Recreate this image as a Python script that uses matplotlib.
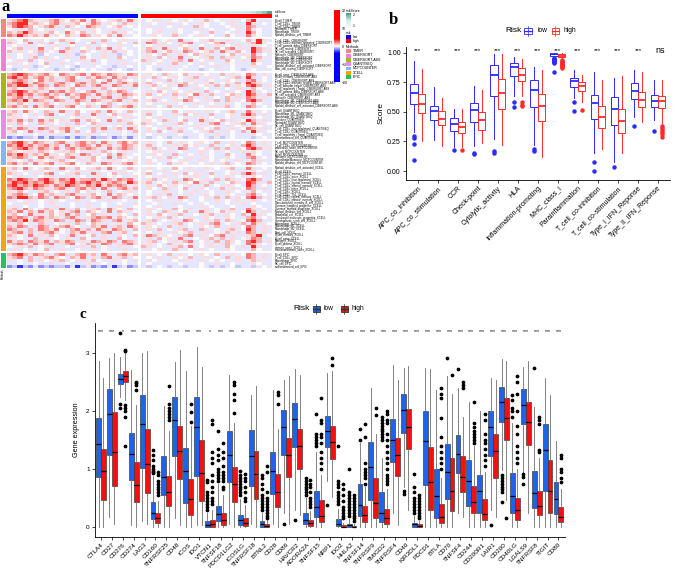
import numpy as np
import matplotlib.pyplot as plt
import matplotlib.transforms as mtransforms
from matplotlib.colors import LinearSegmentedColormap, ListedColormap, Normalize
from matplotlib.patches import Rectangle
from matplotlib.lines import Line2D

plt.rcParams['font.family'] = ['Liberation Sans', 'DejaVu Sans']

# ---------------- panel a data ----------------
methods = ['TIMER', 'CIBERSORT', 'CIBERSORT-ABS', 'QUANTISEQ', 'MCPCOUNTER', 'XCELL', 'EPIC']
method_colors = ['#F4877F', '#F57FD5', '#A5B51A', '#E98AEC', '#86B4F5', '#EFA711', '#22C466']

timer_cells = ['B_cell_TIMER', 'T_cell_CD4+_TIMER', 'T_cell_CD8+_TIMER', 'Neutrophil_TIMER',
               'Macrophage_TIMER', 'Myeloid_dendritic_cell_TIMER']
cibersort_cells = ['T_cell_CD8+_CIBERSORT', 'T_cell_CD4+_memory_activated_CIBERSORT',
                   'T_cell_gamma_delta_CIBERSORT', 'NK_cell_resting_CIBERSORT', 'NK_cell_activated_CIBERSORT',
                   'Monocyte_CIBERSORT', 'Macrophage_M0_CIBERSORT', 'Macrophage_M1_CIBERSORT',
                   'Macrophage_M2_CIBERSORT', 'Myeloid_dendritic_cell_activated_CIBERSORT',
                   'Mast_cell_resting_CIBERSORT']
cibersort_abs_cells = ['B_cell_naive_CIBERSORT-ABS', 'B_cell_memory_CIBERSORT-ABS', 'T_cell_CD8+_CIBERSORT-ABS',
                       'T_cell_CD4+_memory_resting_CIBERSORT-ABS', 'T_cell_follicular_helper_CIBERSORT-ABS',
                       'T_cell_regulatory_(Tregs)_CIBERSORT-ABS', 'T_cell_gamma_delta_CIBERSORT-ABS',
                       'NK_cell_activated_CIBERSORT-ABS', 'Monocyte_CIBERSORT-ABS', 'Macrophage_M1_CIBERSORT-ABS',
                       'Macrophage_M2_CIBERSORT-ABS', 'Myeloid_dendritic_cell_activated_CIBERSORT-ABS']
quantiseq_cells = ['B_cell_QUANTISEQ', 'Macrophage_M1_QUANTISEQ', 'Macrophage_M2_QUANTISEQ', 'Monocyte_QUANTISEQ',
                   'Neutrophil_QUANTISEQ', 'NK_cell_QUANTISEQ', 'T_cell_CD4+_(non-regulatory)_QUANTISEQ',
                   'T_cell_CD8+_QUANTISEQ', 'T_cell_regulatory_(Tregs)_QUANTISEQ', 'uncharacterized_cell_QUANTISEQ']
mcpcounter_cells = ['T_cell_MCPCOUNTER', 'T_cell_CD8+_MCPCOUNTER', 'cytotoxicity_score_MCPCOUNTER',
                    'NK_cell_MCPCOUNTER', 'B_cell_MCPCOUNTER', 'Monocyte_MCPCOUNTER',
                    'Macrophage/Monocyte_MCPCOUNTER', 'Myeloid_dendritic_cell_MCPCOUNTER']
xcell_cells = ['Myeloid_dendritic_cell_activated_XCELL', 'B_cell_XCELL', 'T_cell_CD4+_memory_XCELL',
               'T_cell_CD4+_naive_XCELL', 'T_cell_CD4+_(non-regulatory)_XCELL', 'T_cell_CD4+_central_memory_XCELL',
               'T_cell_CD4+_effector_memory_XCELL', 'T_cell_CD8+_naive_XCELL', 'T_cell_CD8+_XCELL',
               'T_cell_CD4+_Th1_XCELL', 'T_cell_CD8+_central_memory_XCELL', 'T_cell_CD8+_effector_memory_XCELL',
               'Class-switched_memory_B_cell_XCELL', 'Common_lymphoid_progenitor_XCELL',
               'Common_myeloid_progenitor_XCELL', 'Myeloid_dendritic_cell_XCELL', 'Endothelial_cell_XCELL',
               'Granulocyte-monocyte_progenitor_XCELL', 'Hematopoietic_stem_cell_XCELL', 'Macrophage_XCELL',
               'Macrophage_M1_XCELL', 'Macrophage_M2_XCELL', 'Mast_cell_XCELL', 'B_cell_memory_XCELL',
               'B_cell_naive_XCELL', 'Monocyte_XCELL', 'B_cell_plasma_XCELL', 'immune_score_XCELL',
               'microenvironment_score_XCELL']
epic_cells = ['B_cell_EPIC', 'T_cell_CD4+_EPIC', 'Macrophage_EPIC', 'NK_cell_EPIC', 'uncharacterized_cell_EPIC']

# heat levels, low-risk samples | high-risk samples (binned columns)
LEVELS = {'B': -3.2, 'b': -1.8, 'c': -0.9, '.': -0.35, 'w': 0.05, 'p': 0.5, 'q': 1.1, 'r': 2.1, 'R': 3.4}

timer_rows = [
    "pqrRq p.pqr pwqpr .rpw. pq.rp | .w.p. .w.pw ..q.w ..p.w qR...",
    "qrRRp qpwqr p.pqw prq.p w.qp. | ..w.. p..w. .pw.. w.p.. Rp.w.",
    "prRrq wpqrp .qpw. rqp.w pq.w. | .p... w.p.. q.w.. .w.p. rq...",
    "w.p.q .w.p. .w.p. .pw.. .p..w | .w.p. ..w.. .p.w. ..w.. r.w..",
    "qpqRq p.pqw .rpwq .pw.p q.pw. | .w.p. .pw.. w..q. .w.p. Rqw..",
    "rqRqp qpr.p wqp.r q.pwq .rp.w | ..pw. .q..w .p.w. .qw.. rpw..",
]
cibersort_rows = [
    "p.wq. .pw.. qp.w. .p.q. w.p.. | .pq.w p.r.. w.pq. .p..w q.Rp.",
    "qpw.r .p.qw .pr.. wq.p. .pw.q | prq.p w.pqr .p.wq r.p.. pqR.w",
    ".w.p. .w..p ..w.. p..w. .p..w | .w.p. ..pw. .w..p .w.p. .p.w.",
    "wpq.p .r.pw .qp.w p.q.r .pw.. | .qp.r p.wqp .rp.q wqr.p .Rqp.",
    "q.p.w pq.w. rp..q .w.p. q.pw. | pqr.w qp.rq .wpq. rp.qw .Rq.p",
    "..w.p .cw.. .p.c. w..p. .c.w. | .pw.q ..p.w q.p.. .wq.p .r.w.",
    "p.w.. q.p.w .p..q w..p. .qw.. | .p.qw p.r.. w.pq. q.p.w prq..",
    "w.p.q .w.p. .w..p .q.w. .p..w | qp.w. .pq.r .w.p. .qw.p .Rp..",
    ".p.w. .wq.. p..w. .p.w. ..p.. | ..wp. .q..w .p.w. .pw.. .qw..",
    "w..p. c.w.. .w.c. ..w.. c..w. | .w... p..w. .w..p ..w.. .p..w",
    ".c.w. .w..c ..c.w .w..c .w.c. | .w.c. ..w.. .c.w. ..w.c .w...",
]
cibersort_abs_rows = [
    "qrRrq pqrpw rqpqr .rqpr qp.rq | .pw.q p.wq. .pw.. q.p.w rq.p.",
    "rRqrp qrpq. pqrw. qprq. rpq.p | p.q.w .pw.p q..p. w.pq. Rp.w.",
    "pqrq. wrpqp .qrp. pqw.r .qpw. | .w.p. q.w.p ..pw. .pw.. qr.w.",
    "qrRqp rqp.q rp.qr pq.rp .qrpq | pq.w. .p.qw p..q. wp.q. Rqp..",
    "rqRRq prq.r qpwrq .qrp. rq.pr | .pq.w p.rq. .wp.q .q.pw rRq.p",
    "pqw.p .qpw. p.qw. .p.q. w.p.. | ..w.p .w... p.w.. .w.p. .qw..",
    "qrRrp qp.rq rpq.w qrp.q prq.w | .p.qw .pw.p ..q.w .p.w. Rq.w.",
    "rqRqr pqrpq .rpqr q.rpq .prqp | pq.wp .q.pw rp.q. .wqp. Rrp.q",
    "pqr.q .pqrp w.qpr .p.qr .pq.w | .w.p. .pw.q ..p.w .q.p. rq.p.",
    "qrqRp rqp.r q.prq .rqp. qr.pq | .pq.w .p.rq w.p.q .qp.w rRq..",
    "p.qw. .pq.w .p.qw p.w.q .w.p. | .w..p ..w.. p..w. .p.w. .qw..",
    "qrpq. rpqr. pqrw. qp.rq .pqrp | .p.w. q.pw. .w.p. pq.w. rq.w.",
]
quantiseq_rows = [
    "pq.rp w.qp. rp.qw .pq.r pw.q. | .p.w. .qw.p ..p.w .pq.. rp.w.",
    "qp.w. p.qr. w.pq. .rp.w q.p.w | pq.w. .p.qw p..q. .wp.q Rq.p.",
    ".p.w. .w.p. ..w.p .w..p .w.p. | .w.p. ..w.. .p.w. .w..p .pw..",
    "qpr.q .rpqw p.qr. qpw.r .qp.w | .pw.q p.wq. .rp.w q.p.w Rq.p.",
    "p.qw. .qp.w .p.q. wqp.. .p.qw | qp.w. .pq.w .p.qr .w.pq .rp.w",
    "w.p.. .w.p. .p..w ..p.w .w..p | .w..p ..w.. p..w. .p.w. .pw..",
    "qprq. prq.p qrpw. .qpr. pq.rp | .pw.. q.p.w .pw.q ..p.w rq.p.",
    "pqw.r .p.qw pr.q. wq.p. .pw.q | .p.qw .pq.. w.pq. .pw.q .Rp.w",
    "..w.. w..p. .w... p..w. ..w.. | .w... ..w.. .w..p ..w.. .pw..",
    "bcbcc .b.bc cb.bc .bcc. bc.b. | .c.w. c..c. .w.c. c.w.. .c.w.",
]
mcpcounter_rows = [
    "qrRqp rqp.q rp.qr pq.rp .qrpq | .p.w. q.p.w .pw.q ..p.w rq.p.",
    "rqRqr pqrpq .rpqr q.rpq .prqp | pq.w. .p.qw p..q. .wp.q Rq.p.",
    "pqrRq prqpr .qrpq rqp.r pqrq. | .pq.w p.rq. .wp.q .q.pw rRq.p",
    "qpw.p .qpw. p.qw. .p.q. w.p.. | .w.p. ..w.. .p.w. .w..p .pw..",
    "rqRqp qpr.p wqp.r q.pwq .rp.w | ..pw. .q..w .p.w. .qw.. rpw..",
    "pqrq. wrpqp .qrp. pqw.r .qpw. | .w.p. q.w.p ..pw. .pw.. qr.w.",
    "p.w.q .pw.p q.w.p .qw.. p.w.p | .pw.. .w.p. .p.w. w..p. .qp..",
    "qrpq. rpqr. pqrw. qp.rq .pqrp | .p.w. q.pw. .w.p. pq.w. rq.w.",
]
xcell_rows = [
    "pq.rp w.qp. rp.qw .pq.r pw.q. | .p.w. .qw.p ..p.w .pq.. rp.w.",
    "p.w.. .pw.. .w.p. p..w. .p.w. | .w..p .w... .p.w. .w... .pw..",
    "qp.w. p.qr. w.pq. .rp.w q.p.w | pq.w. .p.qw p..q. .wp.q Rq.p.",
    "w.p.. .w.p. .p..w ..p.w .w..p | .w..p ..w.. p..w. .p.w. .pw..",
    "rqRrq prRqp rqRpq qrpRq prqr. | .pq.w .p.rq w.p.q .qp.w rRq..",
    "qRrRq rqRrp qrRqr Rqrpq rqpRq | pq.wp .q.pw rp.q. .wqp. Rrp.q",
    "rRqrq Rrqpr qRrqp rqRpr qrq.p | .p.qw .pw.p ..q.w .p.w. Rq.w.",
    "qrRqp rqp.q rp.qr pq.rp .qrpq | .pw.q p.wq. .pw.. q.p.w rq.p.",
    "p.qw. .pq.w .p.qw p.w.q .w.p. | .w..p ..w.. p..w. .p.w. .qw..",
    "pqrq. wrpqp .qrp. pqw.r .qpw. | .w.p. q.w.p ..pw. .pw.. qr.w.",
    "rqRRq prq.r qpwrq .qrp. rq.pr | .pq.w p.rq. .wp.q .q.pw rRq.p",
    "..w.p .w.p. w..p. .w..p ..w.. | .w.p. ..pw. .w..p .w.p. .p.w.",
    "w..p. .w.p. ..w.. p..w. .w..p | ..w.. .p..w ..w.. .w..p .w...",
    ".p.w. .w..p ..w.. p..w. .p..w | .w.p. ..w.. .p.w. ..w.. .pw..",
    "pq.rp w.qp. rp.qw .pq.r pw.q. | .p.w. .qw.p ..p.w .pq.. rp.w.",
    "qpr.q .rpqw p.qr. qpw.r .qp.w | .pw.q p.wq. .rp.w q.p.w Rq.p.",
    "pqw.r .p.qw pr.q. wq.p. .pw.q | .p.qw .pq.. w.pq. .pw.q .Rp.w",
    "rqrq. qrpqp .qrp. pqrqr .qpw. | .w.p. q.w.p ..pw. .pw.. qr.w.",
    "qrqRp rqp.r q.prq .rqp. qr.pq | .pq.w .p.rq w.p.q .qp.w rRq..",
    "p.qw. .qp.w .p.q. wqp.. .p.qw | qp.w. .pq.w .p.qr .w.pq .rp.w",
    "qprq. prq.p qrpw. .qpr. pq.rp | .pw.. q.p.w .pw.q ..p.w rq.p.",
    "rqp.q .rqpr w.qrp q.rp. rqp.q | .p.q. w.pq. .qp.w .pq.w Rq.p.",
    "pqr.q .pqrp w.qpr .p.qr .pq.w | .w.p. .pw.q ..p.w .q.p. rq.p.",
    "qpw.r .p.qw .pr.. wq.p. .pw.q | prq.p w.pqr .p.wq r.p.. pqR.w",
    "p.w.. q.p.w .p..q w..p. .qw.. | .p.qw p.r.. w.pq. q.p.w prq..",
    "rpq.r qpr.q prq.p .rqpr q.rqp | .pq.w .p.qr .wp.q .qpw. rRq.p",
    "pqrq. rpqr. pqrw. qp.rq .pqrp | .p.w. q.pw. .w.p. pq.w. rq.w.",
    "w.p.q .w.p. .w..p .q.w. .p..w | qp.w. .pq.r .w.p. .qw.p .Rp..",
    ".p.w. .wq.. p..w. .p.w. ..p.. | ..wp. .q..w .p.w. .pw.. .qw..",
]
epic_rows = [
    "qrRqp rqp.q rp.qr pq.rp .qrpq | .p.w. q.p.w .pw.q ..p.w rq.p.",
    "pqr.q .pqrp w.qpr .p.qr .pq.w | .w.p. .pw.q ..p.w .q.p. rq.p.",
    "p.w.q .pw.p q.w.p .qw.. p.w.p | .pw.. .w.p. .p.w. w..p. .qp..",
    "..w.. w..p. .w... p..w. ..w.. | .w... ..w.. .w..p ..w.. .pw..",
    "bcBcb .bcbc cb.Bc .bcb. Bc.bc | .c.w. c..c. .w.c. c.wc. .c.w.",
]

risk_low = [0.55, 0.62, 0.66, 0.69, 0.71, 0.73, 0.75, 0.77, 0.78, 0.80, 0.81, 0.83, 0.84,
            0.85, 0.87, 0.88, 0.89, 0.90, 0.91, 0.92, 0.93, 0.94, 0.95, 0.96, 0.97]
risk_high = [0.98, 0.99, 1.00, 1.01, 1.02, 1.04, 1.05, 1.06, 1.08, 1.09, 1.11, 1.13, 1.15,
             1.17, 1.19, 1.22, 1.25, 1.28, 1.32, 1.37, 1.43, 1.52, 1.65, 1.85, 2.20]

# ---------------- panel b data ----------------
b_cats = ['APC_co_inhibition', 'APC_co_stimulation', 'CCR', 'Check-point', 'Cytolytic_activity', 'HLA',
          'Inflammation-promoting', 'MHC_class_I', 'Parainflammation', 'T_cell_co-inhibition',
          'T_cell_co-stimulation', 'Type_I_IFN_Reponse', 'Type_II_IFN_Reponse']
b_sig = ['***'] * 12 + ['ns']
b_low_q1 = [0.565, 0.435, 0.34, 0.41, 0.63, 0.80, 0.54, 0.975, 0.71, 0.44, 0.39, 0.605, 0.54]
b_low_med = [0.66, 0.505, 0.40, 0.515, 0.815, 0.875, 0.685, 0.985, 0.76, 0.575, 0.525, 0.68, 0.59]
b_low_q3 = [0.735, 0.55, 0.45, 0.575, 0.90, 0.91, 0.765, 0.993, 0.79, 0.64, 0.625, 0.74, 0.64]
b_low_lo = [0.33, 0.26, 0.205, 0.21, 0.27, 0.63, 0.22, 0.96, 0.615, 0.15, 0.08, 0.46, 0.43]
b_low_hi = [0.93, 0.71, 0.525, 0.72, 0.99, 0.965, 0.875, 1.0, 0.85, 0.835, 0.79, 0.85, 0.765]
b_low_out = [[0.30, 0.28, 0.23, 0.09], [], [0.175], [0.15, 0.14], [0.17, 0.15], [0.58, 0.545],
             [0.19, 0.17], [0.955, 0.95, 0.945, 0.94, 0.935, 0.93, 0.925, 0.92, 0.91, 0.84],
             [0.585, 0.51], [0.08, 0.0], [0.035], [0.38], [0.34]]
b_high_q1 = [0.49, 0.385, 0.32, 0.35, 0.525, 0.76, 0.42, 0.962, 0.68, 0.36, 0.325, 0.545, 0.535]
b_high_med = [0.57, 0.44, 0.37, 0.43, 0.66, 0.815, 0.55, 0.975, 0.72, 0.46, 0.425, 0.60, 0.595]
b_high_q3 = [0.65, 0.505, 0.41, 0.495, 0.78, 0.87, 0.655, 0.985, 0.75, 0.55, 0.525, 0.665, 0.635]
b_high_lo = [0.25, 0.21, 0.20, 0.235, 0.22, 0.63, 0.12, 0.945, 0.585, 0.19, 0.155, 0.415, 0.40]
b_high_hi = [0.86, 0.62, 0.52, 0.685, 0.985, 0.95, 0.855, 0.995, 0.815, 0.77, 0.80, 0.84, 0.77]
b_high_out = [[], [], [0.175], [], [], [0.58, 0.56, 0.55], [],
              [0.935, 0.93, 0.92, 0.915, 0.91, 0.90, 0.895, 0.885, 0.875, 0.87],
              [0.515], [], [], [], [0.38, 0.36, 0.35, 0.33, 0.31, 0.29]]

# ---------------- panel c data ----------------
c_genes = ['CTLA4', 'CD27', 'CD276', 'CD274', 'LAG3', 'CD160', 'TNFRSF25', 'CD48', 'ICOS', 'IDO1', 'VTCN1',
           'TNFSF18', 'PDCD1LG2', 'ICOSLG', 'TNFRSF18', 'BTNL2', 'CD28', 'CD86', 'HAVCR2', 'ADORA2A',
           'TNFSF15', 'NRP1', 'IDO2', 'HHLA2', 'TNFSF14', 'TNFRSF9', 'TMIGD2', 'TNFRSF4', 'CD40', 'KIR3DL1',
           'PDCD1', 'BTLA', 'CD70', 'TNFSF4', 'CD244', 'CD200R1', 'LAIR1', 'CD200', 'CD40LG', 'LGALS9',
           'TNFRSF8', 'TIGIT', 'CD80']
c_sig = ['***', '***', '*', '***', '***', '***', '***', '***', '***', '***', '*', '***', '***', '**', '***',
         '**'] + ['***'] * 27
c_low_q1 = [0.87, 1.24, 2.46, 0.82, 1.02, 0.14, 0.56, 1.23, 0.41, 0.88, 0.0, 0.10, 0.78, 0.03, 0.71, 0.0,
            0.58, 1.24, 1.39, 0.06, 0.17, 1.39, 0.02, 0.0, 0.19, 0.47, 0.09, 1.12, 1.62, 0.0, 0.73, 0.16,
            0.48, 0.93, 0.36, 0.25, 1.23, 1.81, 0.24, 1.78, 0.33, 0.63, 0.22]
c_low_med = [1.43, 1.95, 2.55, 1.26, 1.77, 0.25, 0.87, 1.85, 0.97, 1.72, 0.03, 0.22, 1.24, 0.12, 1.23, 0.05,
             0.97, 1.73, 1.87, 0.12, 0.35, 1.66, 0.05, 0.03, 0.39, 1.03, 0.24, 1.51, 2.02, 0.05, 1.49, 0.54,
             0.95, 1.26, 0.79, 0.63, 1.72, 2.15, 0.54, 2.11, 0.59, 1.33, 0.48]
c_low_q3 = [1.88, 2.38, 2.64, 1.62, 2.27, 0.44, 1.23, 2.25, 1.37, 2.25, 0.10, 0.36, 1.65, 0.21, 1.68, 0.10,
            1.29, 2.02, 2.14, 0.24, 0.63, 1.91, 0.14, 0.06, 0.75, 1.47, 0.60, 1.87, 2.30, 0.08, 2.00, 1.00,
            1.43, 1.59, 1.16, 0.90, 2.00, 2.41, 0.93, 2.38, 0.97, 1.78, 0.77]
c_low_lo = [0.0, 0.18, 2.25, 0.03, 0.10, 0.0, 0.0, 0.15, 0.0, 0.03, 0.0, 0.0, 0.06, 0.0, 0.06, 0.0,
            0.06, 0.24, 0.29, 0.0, 0.0, 0.80, 0.0, 0.0, 0.0, 0.0, 0.0, 0.24, 0.70, 0.0, 0.0, 0.0,
            0.0, 0.24, 0.0, 0.0, 0.29, 0.98, 0.0, 0.93, 0.0, 0.0, 0.0]
c_low_hi = [2.87, 2.91, 2.94, 2.71, 3.00, 0.88, 2.09, 2.85, 2.70, 3.11, 0.24, 0.75, 2.62, 0.48, 2.27, 0.25,
            2.37, 2.54, 2.72, 0.50, 1.30, 2.66, 0.32, 0.14, 1.45, 2.40, 1.20, 2.80, 2.74, 0.20, 2.74, 2.37,
            2.60, 2.40, 2.16, 2.00, 2.57, 2.90, 1.80, 2.76, 2.08, 2.57, 1.49]
c_low_out = [[], [], [3.35, 2.12, 2.05], [], [], [1.33, 1.25, 1.15, 1.05, 1.0, 0.97, 0.95, 0.93], [], [], [], [],
             [0.82, 0.78, 0.6, 0.55, 0.5, 0.45, 0.4, 0.35, 0.3], [1.65, 1.35, 1.25, 1.15, 1.0, 0.95, 0.9, 0.85, 0.8],
             [], [0.97, 0.9, 0.85, 0.8, 0.75, 0.7, 0.65, 0.6, 0.55], [],
             [0.9, 0.85, 0.75, 0.65, 0.55, 0.5, 0.45, 0.4, 0.35, 0.3], [], [0.06], [0.12],
             [0.85, 0.8, 0.75, 0.7, 0.65, 0.6, 0.55], [1.95, 1.6, 1.55, 1.5, 1.45, 1.4], [0.39],
             [1.4, 0.8, 0.75, 0.7, 0.6, 0.55, 0.5, 0.45, 0.4], [1.0, 0.6, 0.55, 0.5, 0.45, 0.4, 0.35, 0.3, 0.25, 0.2],
             [1.7, 1.5], [], [1.9, 1.85, 1.8, 1.75, 1.7, 1.65, 1.6, 1.55, 1.5], [], [0.62, 0.58],
             [0.92, 0.7, 0.6, 0.5, 0.45, 0.4, 0.35, 0.3, 0.25], [], [], [2.92], [2.72], [], [], [0.04],
             [0.9, 0.85, 0.8, 0.75, 0.7, 0.65, 0.6, 0.43], [2.28, 2.2, 2.05, 2.0, 1.9], [0.92, 0.87, 0.75],
             [2.75], [], []]
c_high_q1 = [0.47, 0.71, 2.51, 0.44, 0.59, 0.075, 0.37, 0.83, 0.21, 0.45, 0.0, 0.03, 0.43, 0.02, 0.49, 0.0,
             0.35, 0.87, 1.00, 0.02, 0.09, 1.17, 0.0, 0.0, 0.09, 0.15, 0.06, 0.88, 1.35, 0.0, 0.29, 0.075,
             0.28, 0.61, 0.24, 0.13, 0.85, 1.51, 0.12, 1.42, 0.21, 0.24, 0.09]
c_high_med = [0.96, 1.30, 2.60, 0.73, 1.09, 0.16, 0.61, 1.31, 0.48, 0.93, 0.05, 0.13, 0.75, 0.075, 0.92, 0.02,
              0.60, 1.24, 1.40, 0.08, 0.19, 1.46, 0.01, 0.01, 0.21, 0.41, 0.16, 1.24, 1.72, 0.02, 0.78, 0.17,
              0.63, 0.87, 0.44, 0.22, 1.31, 1.89, 0.29, 1.82, 0.37, 0.63, 0.18]
c_high_q3 = [1.34, 1.98, 2.70, 1.13, 1.69, 0.24, 0.89, 1.74, 0.83, 1.50, 0.13, 0.24, 1.03, 0.16, 1.31, 0.05,
             0.92, 1.53, 1.70, 0.13, 0.47, 1.74, 0.03, 0.02, 0.37, 0.84, 0.31, 1.53, 2.04, 0.05, 1.39, 0.40,
             1.19, 1.23, 0.71, 0.48, 1.61, 2.23, 0.50, 2.15, 0.62, 1.16, 0.35]
c_high_lo = [0.0, 0.06, 2.19, 0.0, 0.06, 0.0, 0.0, 0.03, 0.0, 0.03, 0.0, 0.0, 0.0, 0.0, 0.0, 0.0,
             0.0, 0.06, 0.21, 0.0, 0.0, 0.52, 0.0, 0.0, 0.0, 0.0, 0.0, 0.03, 0.29, 0.0, 0.0, 0.0,
             0.0, 0.17, 0.0, 0.0, 0.18, 0.47, 0.0, 0.24, 0.0, 0.0, 0.0]
c_high_hi = [2.57, 3.00, 3.00, 2.10, 3.03, 0.45, 1.65, 3.06, 1.75, 2.76, 0.30, 0.55, 1.80, 0.38, 2.43, 0.12,
             1.70, 2.60, 2.62, 0.28, 0.90, 2.70, 0.08, 0.05, 0.70, 1.60, 0.65, 2.54, 2.78, 0.10, 2.72, 0.85,
             2.30, 1.90, 1.40, 0.95, 2.54, 2.86, 1.00, 2.86, 1.20, 2.28, 0.65]
c_high_out = [[], [], [3.05, 3.03, 2.1, 2.05, 2.0, 1.9, 1.4], [2.5, 2.48, 2.45, 2.37], [],
              [0.95, 0.9, 0.8, 0.75, 0.7, 0.65, 0.6, 0.55], [2.43, 2.12, 2.05, 2.0, 1.95, 1.9, 1.85], [],
              [2.12, 1.99, 1.82], [], [1.85, 1.78, 1.3, 1.2, 1.1, 0.9, 0.8, 0.7, 0.6, 0.5, 0.45, 0.4],
              [1.45, 1.3, 1.2, 1.05, 0.95, 0.9, 0.85, 0.8, 0.7, 0.65], [2.5, 2.45, 2.3, 2.2, 1.97],
              [0.92, 0.85, 0.8, 0.7, 0.6, 0.5, 0.45], [],
              [1.05, 0.95, 0.6, 0.5, 0.45, 0.4, 0.35, 0.3, 0.25, 0.2, 0.15], [2.33, 2.28, 2.13], [], [],
              [0.82, 0.75, 0.7, 0.6, 0.5, 0.45, 0.4, 0.35], [2.23, 1.85, 1.8, 1.6, 1.55, 1.45, 1.3, 1.2, 1.1, 1.0],
              [2.92, 2.8], [0.75, 0.65, 0.55, 0.45, 0.35, 0.3, 0.25, 0.2, 0.15],
              [0.55, 0.5, 0.45, 0.4, 0.35, 0.3, 0.25, 0.2, 0.15, 0.1], [1.78, 1.55, 1.1, 1.0, 0.95, 0.9, 0.85, 0.75],
              [2.05, 1.93], [2.0, 1.95, 1.85, 1.8, 1.6, 1.5, 1.4, 1.3, 1.2, 1.1, 1.0, 0.9, 0.85, 0.8, 0.75], [], [],
              [0.55, 0.5, 0.45, 0.4, 0.35, 0.3, 0.25, 0.2, 0.15], [],
              [2.4, 2.3, 2.22, 1.88, 1.55, 1.4, 1.3, 1.2, 1.1, 1.0], [2.62], [2.5, 2.45, 2.4],
              [2.15, 1.8, 1.72, 1.65, 1.6, 1.55, 1.5, 1.45], [1.95, 1.85, 1.6, 1.5, 1.45, 1.35, 1.25, 1.15, 1.05],
              [], [0.16], [2.6, 2.5, 2.3, 2.0, 1.75, 1.6, 1.4, 1.3, 1.2, 1.1], [],
              [1.9, 1.85, 1.77, 1.33, 1.3], [], [1.25, 1.2, 1.0, 0.95, 0.85, 0.78]]

# ---------------- figure ----------------
W, H = 676, 573
fig = plt.figure(figsize=(W / 100, H / 100), dpi=100)


def fax(x0, y0, x1, y1):
    # axes from a pixel box, origin top-left
    return fig.add_axes([x0 / W, 1 - y1 / H, (x1 - x0) / W, (y1 - y0) / H])


def ftext(x, y, s, **kw):
    fig.text(x / W, 1 - y / H, s, **kw)


def frect(x, y, w, h, **kw):
    fig.add_artist(Rectangle((x / W, 1 - (y + h) / H), w / W, h / H, transform=fig.transFigure, **kw))


def fline(xs, ys, **kw):
    fig.add_artist(Line2D([x / W for x in xs], [1 - y / H for y in ys], transform=fig.transFigure, **kw))


def key(x, yc, w, h, fc, ec):
    # little boxplot glyph used in the ggplot legends
    fline([x + w / 2, x + w / 2], [yc - h / 2 - 1.8, yc + h / 2 + 1.8], color=ec, lw=0.5)
    frect(x, yc - h / 2, w, h, fc=fc, ec=ec, lw=0.6)
    fline([x, x + w], [yc, yc], color=ec, lw=0.9)


# ---- panel a ----
heat_cmap = LinearSegmentedColormap.from_list(
    'hm', [(0, '#0000ff'), (0.40, '#0000ff'), (0.5, '#ffffff'), (0.60, '#ff0000'), (1, '#ff0000')])
heat_norm = Normalize(-20, 20)

groups = [(timer_cells, timer_rows), (cibersort_cells, cibersort_rows), (cibersort_abs_cells, cibersort_abs_rows),
          (quantiseq_cells, quantiseq_rows), (mcpcounter_cells, mcpcounter_rows), (xcell_cells, xcell_rows),
          (epic_cells, epic_rows)]
nb = 25
col_gap, row_gap = 0.6, 0.7
x_edges = np.r_[np.arange(nb + 1), nb + col_gap + np.arange(nb + 1)]

Z, grp, names, name_y = [], [], [], []
y_edges = [0.0]
for gi, (cells, rows) in enumerate(groups):
    if gi > 0:
        Z.append([np.nan] * (2 * nb + 1))
        grp.append(np.nan)
        y_edges.append(y_edges[-1] + row_gap)
    for cell, s in zip(cells, rows):
        lo, hi = s.replace(' ', '').split('|')
        lo, hi = lo[:nb].ljust(nb, '.'), hi[:nb].ljust(nb, '.')
        Z.append([LEVELS[c] for c in lo] + [np.nan] + [LEVELS[c] for c in hi])
        grp.append(gi)
        names.append(cell)
        name_y.append(y_edges[-1] + 0.5)
        y_edges.append(y_edges[-1] + 1)
Z = np.ma.masked_invalid(np.array(Z, dtype=float))

ax_h = fax(7, 19, 272, 268)
ax_h.pcolormesh(x_edges, y_edges, Z, cmap=heat_cmap, norm=heat_norm)
ax_h.set_xlim(0, x_edges[-1])
ax_h.set_ylim(y_edges[-1], 0)
ax_h.axis('off')
tr = mtransforms.blended_transform_factory(ax_h.transAxes, ax_h.transData)
for n, y in zip(names, name_y):
    ax_h.text(1.01, y, n, transform=tr, fontsize=2, va='center', ha='left')

ax_g = fax(1, 19, 5.5, 268)
ax_g.pcolormesh([0, 1], y_edges, np.ma.masked_invalid(np.array(grp, dtype=float))[:, None],
                cmap=ListedColormap(method_colors), vmin=-0.5, vmax=6.5)
ax_g.set_ylim(y_edges[-1], 0)
ax_g.axis('off')

rs_cmap = LinearSegmentedColormap.from_list('rs', ['#f4fbfb', '#d4eeee', '#3f9e78'])
ax_rs = fax(7, 10.5, 272, 13.5)
ax_rs.pcolormesh(x_edges, [0, 1], np.ma.masked_invalid(np.array([risk_low + [np.nan] + risk_high])),
                 cmap=rs_cmap, vmin=0.5, vmax=2.3)
ax_rs.axis('off')
ax_rk = fax(7, 14.2, 272, 17.6)
ax_rk.pcolormesh(x_edges, [0, 1], np.ma.masked_invalid(np.array([[0.0] * nb + [np.nan] + [1.0] * nb])),
                 cmap=ListedColormap(['#0000ff', '#ff0000']), vmin=0, vmax=1)
ax_rk.axis('off')
ftext(275, 12, 'riskScore', fontsize=2, va='center')
ftext(275, 16, 'risk', fontsize=2, va='center')
ftext(3, 274, 'Methods', fontsize=2, rotation=90, ha='center', va='center')

ax_cb = fax(334, 10, 340, 82)
ax_cb.imshow(np.linspace(20, -20, 200)[:, None], aspect='auto', cmap=heat_cmap, norm=heat_norm,
             extent=[0, 1, -20, 20])
ax_cb.set_xticks([])
ax_cb.yaxis.tick_right()
ax_cb.set_yticks([20, 10, 0, -10, -20])
ax_cb.tick_params(axis='y', labelsize=2.5, length=0, pad=1)
for s in ax_cb.spines.values():
    s.set_visible(False)

ftext(346, 11, 'riskScore', fontsize=2.5, va='center')
ax_rl = fax(346, 13, 351, 28)
ax_rl.imshow(np.linspace(2.3, 0.5, 100)[:, None], aspect='auto', cmap=rs_cmap, vmin=0.5, vmax=2.3)
ax_rl.axis('off')
ftext(353, 15, '2', fontsize=2.5, va='center')
ftext(353, 26, '1', fontsize=2.5, va='center')
ftext(346, 33, 'risk', fontsize=2.5, va='center')
frect(346, 35.2, 5, 3.6, fc='#0000ff', ec='none')
frect(346, 39.2, 5, 3.6, fc='#ff0000', ec='none')
ftext(353, 37, 'low', fontsize=2.5, va='center')
ftext(353, 41, 'high', fontsize=2.5, va='center')
ftext(346, 47, 'Methods', fontsize=2.5, va='center')
for i, (m, c) in enumerate(zip(methods, method_colors)):
    frect(346, 49.3 + i * 4.3, 5, 3.9, fc=c, ec='none')
    ftext(353, 51.2 + i * 4.3, m, fontsize=2.5, va='center')

ftext(1, 7, 'a', fontsize=12, fontweight='bold', family='Liberation Serif', va='center')
ftext(389, 20, 'b', fontsize=12, fontweight='bold', family='Liberation Serif', va='center')
ftext(80, 315, 'c', fontsize=11, fontweight='bold', family='Liberation Serif', va='center')


def box_stats(q1, med, q3, lo, hi, out):
    return [dict(q1=a, med=b, q3=c, whislo=d, whishi=e, fliers=np.array(f))
            for a, b, c, d, e, f in zip(q1, med, q3, lo, hi, out)]


def classic(ax):
    for s in ['top', 'right']:
        ax.spines[s].set_visible(False)
    for s in ['left', 'bottom']:
        ax.spines[s].set_linewidth(0.6)
    ax.tick_params(length=2, width=0.5, pad=1.5, colors='black')


# ---- panel b ----
c_lo_b, c_hi_b = '#2b2bff', '#ff2b2b'
ax_b = fax(405.7, 47, 670, 180)
pos_b = np.arange(1, len(b_cats) + 1)
for stats, off, col in [(box_stats(b_low_q1, b_low_med, b_low_q3, b_low_lo, b_low_hi, b_low_out), -0.19, c_lo_b),
                        (box_stats(b_high_q1, b_high_med, b_high_q3, b_high_lo, b_high_hi, b_high_out), 0.19, c_hi_b)]:
    ax_b.bxp(stats, positions=pos_b + off, widths=0.36, showcaps=False, patch_artist=True,
             boxprops=dict(facecolor='white', edgecolor=col, lw=0.7),
             whiskerprops=dict(color=col, lw=0.7),
             medianprops=dict(color=col, lw=1.3),
             flierprops=dict(marker='o', mfc=col, mec=col, ms=2.2, lw=0))
for p, s in zip(pos_b, b_sig):
    if s == 'ns':
        ax_b.text(p + 0.1, 1.02, s, ha='center', va='center', fontsize=6.5)
    else:
        ax_b.text(p, 1.015, s, ha='center', va='center', fontsize=4.5)
ax_b.set_xlim(0.4, len(b_cats) + 0.6)
ax_b.set_ylim(-0.076, 1.048)
ax_b.set_yticks([0, 0.25, 0.5, 0.75, 1.0])
ax_b.set_yticklabels(['0.00', '0.25', '0.50', '0.75', '1.00'])
ax_b.set_xticks(pos_b)
ax_b.set_xticklabels(b_cats, rotation=45, ha='right', rotation_mode='anchor')
ax_b.tick_params(labelsize=5)
ax_b.set_ylabel('Score', fontsize=6, labelpad=2)
classic(ax_b)

ftext(505, 31, 'Risk', fontsize=6, va='center')
key(524, 31, 7.5, 6, 'white', c_lo_b)
ftext(537, 31, 'low', fontsize=4.8, va='center')
key(551.5, 31, 7.5, 6, 'white', c_hi_b)
ftext(564, 31, 'high', fontsize=4.8, va='center')

# ---- panel c ----
c_lo_c, c_hi_c = '#1d63ec', '#f50f0f'
ax_c = fax(94.5, 323, 565, 537)
pos_c = np.arange(1, len(c_genes) + 1)
for stats, off, col in [(box_stats(c_low_q1, c_low_med, c_low_q3, c_low_lo, c_low_hi, c_low_out), -0.225, c_lo_c),
                        (box_stats(c_high_q1, c_high_med, c_high_q3, c_high_lo, c_high_hi, c_high_out), 0.225, c_hi_c)]:
    ax_c.bxp(stats, positions=pos_c + off, widths=0.45, showcaps=False, patch_artist=True,
             boxprops=dict(facecolor=col, edgecolor='#333333', lw=0.45),
             whiskerprops=dict(color='#6e6e6e', lw=0.6),
             medianprops=dict(color='black', lw=0.9),
             flierprops=dict(marker='o', mfc='black', mec='black', ms=1.7, lw=0))
for p, s in zip(pos_c, c_sig):
    ax_c.text(p, 3.38, s, ha='center', va='center', fontsize=3.8)
ax_c.set_xlim(0.4, len(c_genes) + 0.6)
ax_c.set_ylim(-0.17, 3.52)
ax_c.set_yticks([0, 1, 2, 3])
ax_c.set_xticks(pos_c)
ax_c.set_xticklabels(c_genes, rotation=45, ha='right', rotation_mode='anchor')
ax_c.tick_params(labelsize=4.6)
ax_c.set_ylabel('Gene expression', fontsize=5.2, labelpad=4)
classic(ax_c)

ftext(293, 309, 'Risk', fontsize=6, va='center')
key(312.5, 309, 7.5, 5.5, c_lo_c, '#333333')
ftext(324, 309, 'low', fontsize=4.8, va='center')
key(340.5, 309, 7.5, 5.5, c_hi_c, '#333333')
ftext(352, 309, 'high', fontsize=4.8, va='center')

fig.savefig('out.png', dpi=100)
